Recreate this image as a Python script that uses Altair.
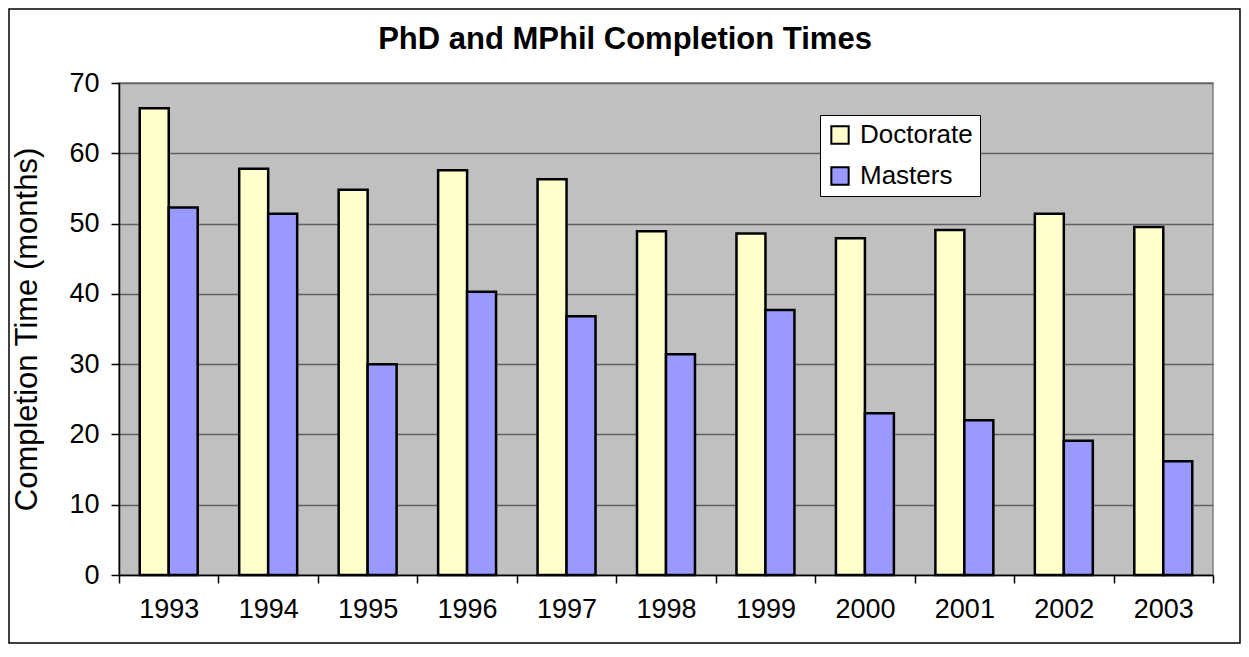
import altair as alt
import pandas as pd

years = ["1993", "1994", "1995", "1996", "1997", "1998", "1999", "2000", "2001", "2002", "2003"]
doctorate = [66.4, 57.8, 54.8, 57.6, 56.3, 48.9, 48.6, 47.9, 49.1, 51.4, 49.5]
masters = [52.3, 51.4, 30.0, 40.3, 36.8, 31.4, 37.7, 23.0, 22.0, 19.1, 16.2]
series = ["Doctorate", "Masters"]
colors = ["#FFFFCC", "#9999FF"]
title_text = "PhD and MPhil Completion Times"

rows = []
for i, y in enumerate(years):
    rows.append({"year": y, "type": "Doctorate", "value": doctorate[i]})
    rows.append({"year": y, "type": "Masters", "value": masters[i]})
df = pd.DataFrame(rows)

FONT = "Liberation Sans"
W, H = 1094, 492

bars = alt.Chart(df).mark_bar(stroke="black", strokeWidth=2.5).encode(
    x=alt.X("year:N", sort=years, title=None,
            scale=alt.Scale(paddingInner=0, paddingOuter=0),
            axis=alt.Axis(labelAngle=0, tickBand="extent", labelFontSize=27,
                          labelFont=FONT, labelColor="black", tickColor="black",
                          domainColor="black", domainWidth=1.5, tickSize=8,
                          tickWidth=1.5, labelPadding=13, grid=False)),
    xOffset=alt.XOffset("type:N", sort=series,
                        scale=alt.Scale(paddingInner=0, paddingOuter=0.716)),
    y=alt.Y("value:Q", title="Completion Time (months)",
            scale=alt.Scale(domain=[0, 70], nice=False),
            axis=alt.Axis(values=list(range(0, 71, 10)), labelFontSize=27,
                          labelFont=FONT, labelColor="black", tickColor="black",
                          domainColor="black", domainWidth=1.5, tickSize=8,
                          tickWidth=1.5, labelPadding=12, titleFontSize=31,
                          titleFont=FONT, titleFontWeight="normal",
                          titleColor="black", titlePadding=25,
                          gridColor="#606060", gridWidth=1.5)),
    fill=alt.Fill("type:N", sort=series, title=None,
                  scale=alt.Scale(domain=series, range=colors),
                  legend=alt.Legend(orient="none", legendX=701, legendY=32,
                                    fillColor="white", strokeColor="black",
                                    padding=7, symbolType="square", symbolSize=300,
                                    symbolStrokeColor="black", symbolStrokeWidth=2,
                                    labelFontSize=26, labelFont=FONT, labelColor="black",
                                    labelOffset=7, rowPadding=15)),
)

border = alt.Chart(pd.DataFrame({"a": [0]})).mark_rect(
    filled=False, stroke="black", strokeWidth=1.5, clip=False
).encode(x=alt.value(-110), x2=alt.value(W + 27), y=alt.value(-74), y2=alt.value(H + 68))

title = alt.Chart(pd.DataFrame({"t": [title_text]})).mark_text(
    font=FONT, fontSize=31, fontWeight="bold", color="black",
    align="center", baseline="middle"
).encode(text="t:N", x=alt.value(W / 2 - 41), y=alt.value(-43))

chart = alt.layer(border, bars, title).properties(
    width=W, height=H,
    padding={"left": 111, "top": 75, "right": 28, "bottom": 70},
    autosize=alt.AutoSizeParams(type="none"),
    background="white",
).configure_view(fill="#C0C0C0", stroke="#808080", strokeWidth=1.5)

chart.save("out.html", embed_options={"renderer": "svg", "actions": False})
